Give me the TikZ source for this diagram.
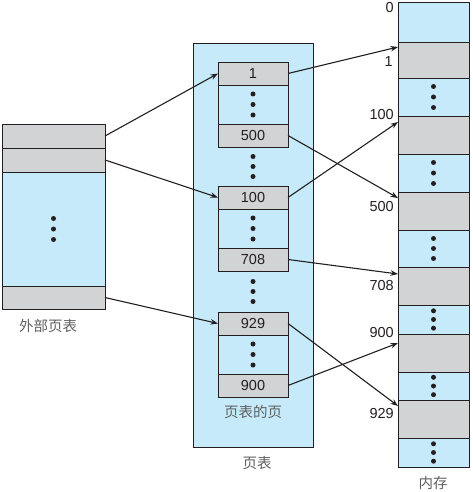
\documentclass[tikz,border=0pt]{standalone}
\usepackage{fontspec}
\setmainfont{Liberation Sans}
\newfontfamily\cjk{Noto Sans CJK SC}
\usetikzlibrary{arrows.meta}
\usetikzlibrary{positioning}
\usetikzlibrary{calc}
\definecolor{cellblue}{RGB}{198,234,250}
\definecolor{cellgray}{RGB}{209,211,212}
\definecolor{ink}{RGB}{35,31,32}
\definecolor{capgray}{RGB}{95,95,95}
\newcommand{\numfont}{\fontsize{14.5}{16}\selectfont}

\tikzset{
  box/.style={draw=ink, line width=0.9pt, inner sep=0pt, outer sep=0pt, text=ink, font=\numfont},
  used/.style={box, fill=cellgray, minimum height=#1},
  free/.style={box, fill=cellblue, minimum height=#1},
  ptr/.style={draw=ink, line width=1.1pt, -{Stealth[length=7.5pt, width=5.5pt]}},
  addr/.style={text=ink, font=\numfont, anchor=east, inner sep=0pt},
  caption/.style={text=capgray, font=\cjk\fontsize{14.5}{16}\selectfont, inner sep=0pt},
}

\begin{document}
\begin{tikzpicture}[x=1pt, y=-1pt]
  \useasboundingbox (0,0) rectangle (472,492);

  % outer page table
  \begin{scope}[every node/.append style={minimum width=103pt}]
    \node [used=24pt, anchor=north west] (o1) at (2,124) {};
    \node [used=24pt, below=0pt of o1] (o2) {};
    \node [free=114pt, below=0pt of o2] (ob) {};
    \node [used=23pt, below=0pt of ob] (o3) {};
  \end{scope}
  \node [caption] (lo) at (48,326) {外部页表};

  % page table
  \node [free=404pt, minimum width=120pt, anchor=north west] (ptab) at (193,43) {};
  \begin{scope}[every node/.append style={minimum width=70pt}]
    \node [used=23pt, anchor=north west] (p1) at (218,62) {1};
    \node [free=39pt, below=0pt of p1] (p1b) {};
    \node [used=23pt, below=0pt of p1b] (p500) {500};

    \node [used=23pt, anchor=north west] (p100) at (218,186) {100};
    \node [free=39pt, below=0pt of p100] (p100b) {};
    \node [used=23pt, below=0pt of p100b] (p708) {708};

    \node [used=23pt, anchor=north west] (p929) at (218,312) {929};
    \node [free=39pt, below=0pt of p929] (p929b) {};
    \node [used=23pt, below=0pt of p929b] (p900) {900};
  \end{scope}
  \coordinate (gap1) at ($(p500.south)!0.5!(p100.north)$);
  \coordinate (gap2) at ($(p708.south)!0.5!(p929.north)$);
  \node [caption] (lpp) at (253,412) {页表的页};
  \node [caption] (lp) at (257,463) {页表};

  % memory
  \begin{scope}[every node/.append style={minimum width=71pt}]
    \node [free=40pt, anchor=north west] (m0) at (398,2) {};
    \node [used=36pt, below=0pt of m0] (m1) {};
    \node [free=38pt, below=0pt of m1] (mb1) {};
    \node [used=38pt, below=0pt of mb1] (m100) {};
    \node [free=38pt, below=0pt of m100] (mb2) {};
    \node [used=38pt, below=0pt of mb2] (m500) {};
    \node [free=37pt, below=0pt of m500] (mb3) {};
    \node [used=38pt, below=0pt of mb3] (m708) {};
    \node [free=29pt, below=0pt of m708] (mb4) {};
    \node [used=38pt, below=0pt of mb4] (m900) {};
    \node [free=28pt, below=0pt of m900] (mb5) {};
    \node [used=38pt, below=0pt of mb5] (m929) {};
    \node [free=29pt, below=0pt of m929] (mb6) {};
  \end{scope}
  \node [caption] (lm) at (433,483) {内存};

  \node [addr] (a0) at (394,7.5) {0};
  \node [addr] (a1) at (393,62) {1};
  \node [addr] (a100) at (394,115) {100};
  \node [addr] (a500) at (394,207) {500};
  \node [addr] (a708) at (394,286) {708};
  \node [addr] (a900) at (394,333) {900};
  \node [addr] (a929) at (394,414) {929};

  % dots
  \foreach \c/\s in {ob/10.5, p1b/10.5, gap1/10, p100b/10.5, gap2/10, p929b/10.5,
                     mb1/10.5, mb2/10.5, mb3/10, mb4/8.7, mb5/8.7, mb6/8.7} {
    \foreach \k in {-1,0,1}
      \fill [ink] ([yshift={-\k*\s}]\c) circle [radius=2.5pt];
  }

  % pointers
  \draw [ptr] (o1.east) -- (p1.west);
  \draw [ptr] (o2.east) -- (p100.west);
  \draw [ptr] (o3.east) -- (p929.west);
  \foreach \a/\m/\s in {p1/m1/5, p500/m500/6, p100/m100/6, p708/m708/7, p929/m929/6, p900/m900/9}
    \draw [ptr] (\a.east) -- ([yshift=-\s pt]\m.north west);
\end{tikzpicture}
\end{document}
